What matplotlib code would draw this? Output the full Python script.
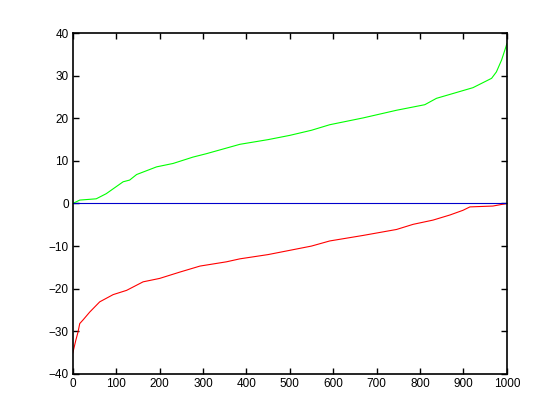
import matplotlib
matplotlib.use('Agg')
import matplotlib.pyplot as plt

# values (sorted curves, 1000 samples)
green_x = [0, 16, 54, 77, 116, 131, 147, 193, 231, 277, 308, 385, 450, 500,
           550, 592, 669, 746, 811, 838, 922, 965, 976, 988, 998, 1000]
green_y = [0.0, 0.8, 1.1, 2.3, 5.1, 5.5, 6.8, 8.6, 9.4, 10.9, 11.7, 13.9, 15.0, 16.0,
           17.2, 18.5, 20.1, 21.9, 23.2, 24.7, 27.2, 29.4, 30.9, 33.7, 36.8, 37.5]

red_x = [0, 7, 12, 16, 24, 39, 62, 93, 124, 162, 200, 247, 293, 354, 385,
         450, 500, 550, 592, 669, 746, 784, 830, 869, 899, 915, 968, 1000]
red_y = [-35.1, -32.1, -30.2, -28.2, -27.3, -25.5, -23.1, -21.4, -20.4, -18.4, -17.6,
         -16.1, -14.7, -13.7, -13.0, -12.0, -11.0, -10.0, -8.8, -7.5, -6.1, -4.9,
         -3.9, -2.7, -1.6, -0.8, -0.6, 0.0]

xticks = [0, 100, 200, 300, 400, 500, 600, 700, 800, 900, 1000]
yticks = [-40, -30, -20, -10, 0, 10, 20, 30, 40]

plt.rcParams['font.family'] = ['Liberation Sans', 'DejaVu Sans']

fig = plt.figure(figsize=(5.6, 4.2), dpi=100)
ax = fig.add_axes([0.130, 0.110, 0.775, 0.811])

ax.plot(green_x, green_y, color='#00ff00', lw=0.8)
ax.plot(red_x, red_y, color='#ff0000', lw=0.8)
ax.axhline(0, color='#0000cc', lw=0.8)

ax.set_xlim(0, 1000)
ax.set_ylim(-40, 40)
ax.set_xticks(xticks)
ax.set_yticks(yticks)
ax.tick_params(direction='in', length=4, width=1, labelsize=8.5,
               top=True, right=True, pad=3)
for s in ax.spines.values():
    s.set_linewidth(1.2)

fig.savefig('out.png', dpi=100)
